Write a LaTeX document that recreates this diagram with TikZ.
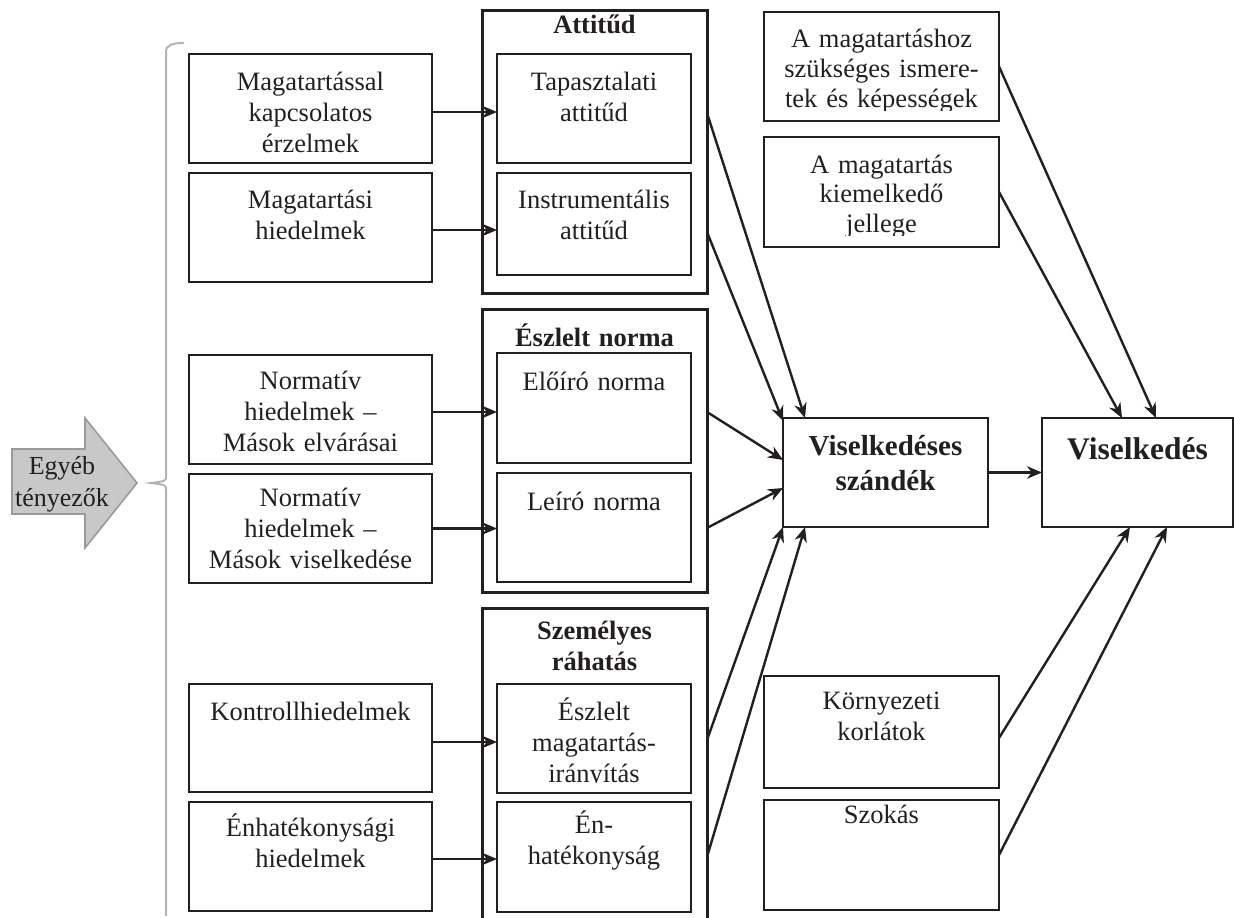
\documentclass[tikz,border=0pt]{standalone}
\usepackage{fontspec}
\setmainfont{Liberation Serif}
\usetikzlibrary{arrows.meta,calc}
\definecolor{ln}{HTML}{231F20}
\definecolor{gfill}{HTML}{C8C8C8}
\definecolor{gline}{HTML}{9A9A9A}
\definecolor{brc}{HTML}{B4B4B4}
\begin{document}
\begin{tikzpicture}[x=1pt,y=-1pt,
  box/.style={draw=ln,line width=2.4,inner sep=0,outer sep=0},
  grp/.style={draw=ln,line width=3,inner sep=0,outer sep=0},
  txt/.style={text=ln,inner sep=0,anchor=base,align=center,text width=#1,font=\fontsize{26.5}{31}\selectfont},
  txt/.default=230,
  ttl/.style={text=ln,inner sep=0,anchor=base,align=center,text width=#1,font=\bfseries\fontsize{26.5}{31}\selectfont},
  ttl/.default=215,
  arr/.style={draw=ln,line width=2.4,-{Stealth[length=15,width=12.5]}}
]
\useasboundingbox (0,0) rectangle (1234,918);
\clip (0,0) rectangle (1234,918);

% other factors arrow
\draw[fill=gfill,draw=gline,line width=1.6] (12,449) -- (85,449) -- (85,418) -- (137,483) -- (85,548) -- (85,514) -- (12,514) -- cycle;
\node[txt=100,font=\fontsize{26}{32}\selectfont] (eg) at (62,474) {Egyéb\\tényezők};

% brace
\draw[brc,line width=2] (184,43) .. controls (172,43) and (166,45) .. (166,52) -- (166,476)
  .. controls (166,481) .. (151,483) .. controls (166,485) .. (166,490) -- (166,916);

% left column boxes
\node[box,minimum width=243,minimum height=109] (b1) at (310.5,108.5) {};
\node[box,minimum width=243,minimum height=109] (b2) at (310.5,227.5) {};
\node[box,minimum width=243,minimum height=109] (b3) at (310.5,409.5) {};
\node[box,minimum width=243,minimum height=109] (b4) at (310.5,528.5) {};
\node[box,minimum width=243,minimum height=108] (b5) at (310.5,738) {};
\node[box,minimum width=243,minimum height=109] (b6) at (310.5,856.5) {};
\node[txt] (b1t) at (310.5,90.5) {Magatartással\\kapcsolatos\\érzelmek};
\node[txt] (b2t) at (310.5,208) {Magatartási\\hiedelmek};
\node[txt] (b3t) at (310.5,389) {Normatív\\hiedelmek –\\Mások elvárásai};
\node[txt] (b4t) at (310.5,506) {Normatív\\hiedelmek –\\Mások viselkedése};
\node[txt] (b5t) at (310.5,720) {Kontrollhiedelmek};
\node[txt] (b6t) at (310.5,836) {Énhatékonysági\\hiedelmek};

% group boxes
\node[grp,minimum width=225,minimum height=283] (g1) at (594.5,151.5) {};
\node[grp,minimum width=225,minimum height=283] (g2) at (594.5,450.5) {};
\node[grp,minimum width=225,minimum height=322] (g3) at (594.5,769) {};
\node[ttl] (g1t) at (594.5,33) {Attitűd};
\node[ttl] (g2t) at (594.5,346) {Észlelt norma};
\node[ttl,font=\bfseries\fontsize{26.5}{31}\selectfont] (g3t) at (594.5,639) {Személyes\\ráhatás};

% inner boxes
\node[box,minimum width=194,minimum height=109] (i1) at (594,108.5) {};
\node[box,minimum width=194,minimum height=102] (i2) at (594,224) {};
\node[box,minimum width=194,minimum height=110] (i3) at (594,408) {};
\node[box,minimum width=194,minimum height=109] (i4) at (594,527.5) {};
\node[box,minimum width=194,minimum height=109] (i5) at (594,738.5) {};
\node[box,minimum width=194,minimum height=110] (i6) at (594,857) {};
\node[txt=185] (i1t) at (594,90.5) {Tapasztalati\\attitűd};
\node[txt=185] (i2t) at (594,208) {Instrumentális\\attitűd};
\node[txt=185] (i3t) at (594,390) {Előíró norma};
\node[txt=185] (i4t) at (594,510) {Leíró norma};
\begin{scope}
\clip (497,684) rectangle (691,782);
\node[txt=185] (i5t) at (594,720) {Észlelt\\magatartás-\\irányítás};
\end{scope}
\node[txt=185] (i6t) at (594,833) {Én-\\hatékonyság};

% right column boxes
\node[box,minimum width=235,minimum height=109] (r1) at (881.5,66.5) {};
\node[box,minimum width=235,minimum height=110] (r2) at (881.5,192) {};
\node[box,minimum width=235,minimum height=112] (r3) at (881.5,732) {};
\node[box,minimum width=235,minimum height=110] (r4) at (881.5,855) {};
\begin{scope}
\clip (764,12) rectangle (999,110);
\node[txt,font=\fontsize{26.5}{30.2}\selectfont] (r1t) at (881.5,47) {A magatartáshoz\\szükséges ismere-\\tek és képességek};
\end{scope}
\begin{scope}
\clip (764,137) rectangle (999,235);
\node[txt,font=\fontsize{26.5}{29.6}\selectfont] (r2t) at (881.5,173) {A magatartás\\kiemelkedő\\jellege};
\end{scope}
\node[txt] (r3t) at (881.5,709) {Környezeti\\korlátok};
\node[txt] (r4t) at (881.5,823) {Szokás};

% intention and behaviour
\node[box,minimum width=205,minimum height=109] (vs) at (885.5,472.5) {};
\node[box,minimum width=191,minimum height=109] (vb) at (1137.5,472.5) {};
\node[ttl=200,font=\bfseries\fontsize{29}{35}\selectfont] (vst) at (885.5,455) {Viselkedéses\\szándék};
\node[ttl=190,font=\bfseries\fontsize{31.5}{36}\selectfont] (vbt) at (1137.5,459) {Viselkedés};

% arrows: beliefs -> components
\draw[arr] ($(b1.east)+(0,3.5)$) -- ($(b1.east -| i1.west)+(0,3.5)$);
\draw[arr] ($(b2.east)+(0,2.5)$) -- ($(b2.east -| i2.west)+(0,2.5)$);
\draw[arr] ($(b3.east)+(0,2.5)$) -- ($(b3.east -| i3.west)+(0,2.5)$);
\draw[arr] (b4.east) -- (b4.east -| i4.west);
\draw[arr] ($(b5.east)+(0,4)$) -- ($(b5.east -| i5.west)+(0,4)$);
\draw[arr] ($(b6.east)+(0,2.5)$) -- ($(b6.east -| i6.west)+(0,2.5)$);

% components -> intention
\draw[arr] ($(i1.east -| g1.east)+(0,4.5)$) -- ($(vs.north west)+(22,0)$);
\draw[arr] ($(i2.east -| g1.east)+(0,8)$) -- ($(vs.north west)+(0,3)$);
\draw[arr] ($(i3.east -| g2.east)+(0,4)$) -- ($(vs.west)+(0,-12.5)$);
\draw[arr] ($(i4.east -| g2.east)+(0,0.5)$) -- ($(vs.west)+(0,15.5)$);
\draw[arr] ($(i5.east -| g3.east)+(0,1.5)$) -- (vs.south west);
\draw[arr] (i6.east -| g3.east) -- ($(vs.south west)+(22,0)$);

% intention -> behaviour and moderators
\draw[arr] (vs.east) -- (vb.west);
\draw[arr] (r1.east) -- ($(vb.north west)+(114,0)$);
\draw[arr] (r2.east) -- ($(vb.north west)+(80,0)$);
\draw[arr] ($(r3.east)+(0,6)$) -- ($(vb.south west)+(88,0)$);
\draw[arr] (r4.east) -- ($(vb.south west)+(125,0)$);
\end{tikzpicture}
\end{document}
